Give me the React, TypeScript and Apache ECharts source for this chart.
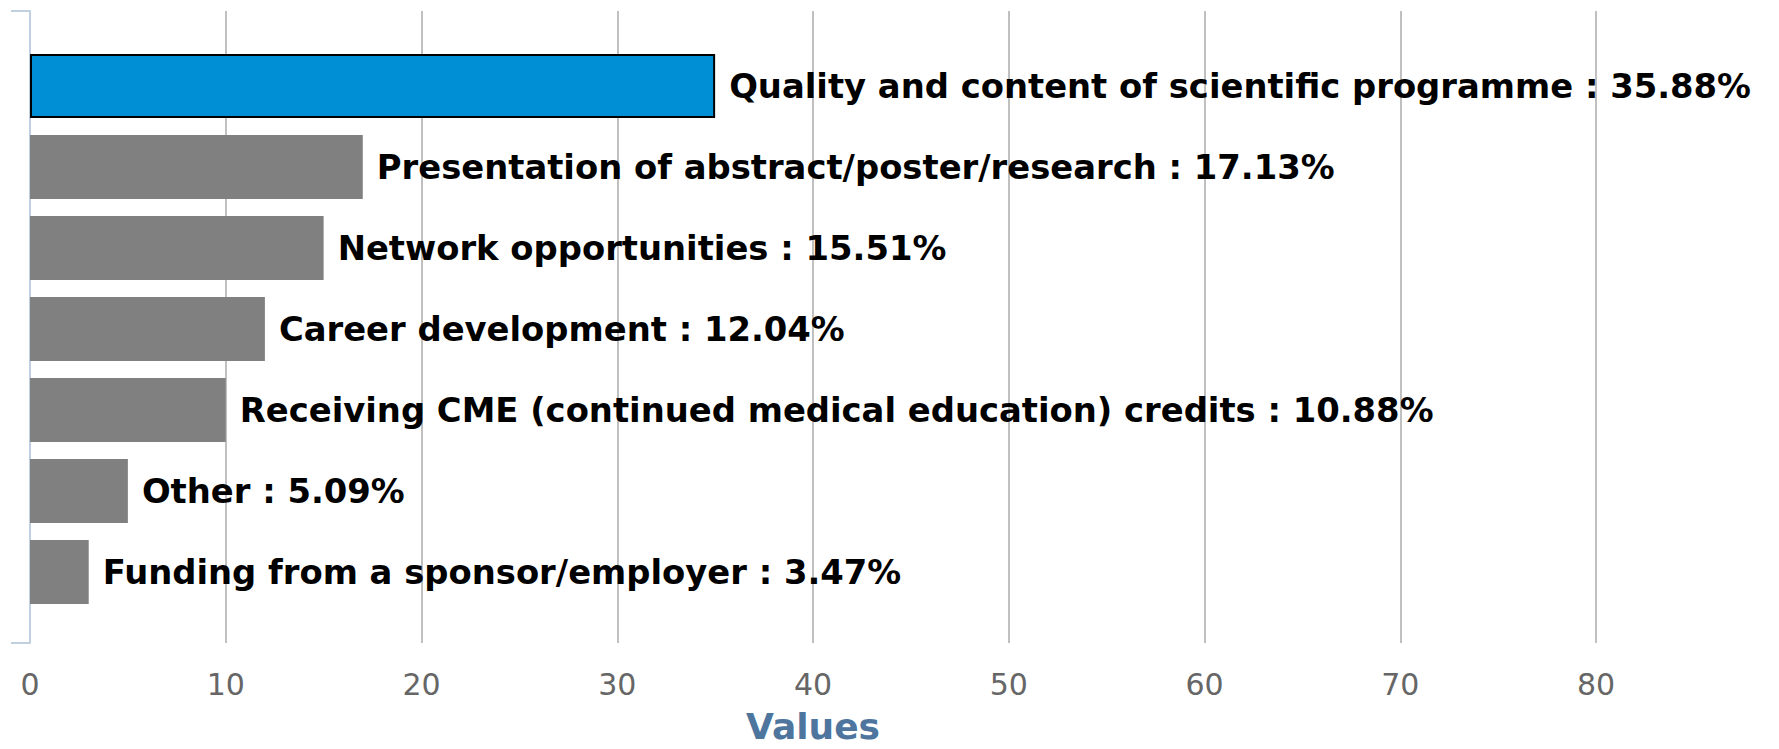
import React, { useEffect, useRef } from "react";
import * as echarts from "echarts";

const categories = [
  "Quality and content of scientific programme",
  "Presentation of abstract/poster/research",
  "Network opportunities",
  "Career development",
  "Receiving CME (continued medical education) credits",
  "Other",
  "Funding from a sponsor/employer",
];
const counts = [35, 17, 15, 12, 10, 5, 3];
const percentages = [35.88, 17.13, 15.51, 12.04, 10.88, 5.09, 3.47];
const axisMin = 0;
const axisMax = 80;
const axisStep = 10;
const axisTitle = "Values";
const highlightIndex = 0;

export default function App() {
  const ref = useRef<HTMLDivElement>(null);
  useEffect(() => {
    const chart = echarts.init(ref.current as HTMLDivElement, null, { renderer: "svg" });
    const left = 30;
    const right = 183;
    chart.setOption({
      animation: false,
      backgroundColor: "#ffffff",
      textStyle: { fontFamily: "DejaVu Sans" },
      grid: [
        { left, right, top: 11, bottom: 106 },
        { left, right, top: 45.5, bottom: 136.5 },
      ],
      xAxis: [
        {
          type: "value",
          gridIndex: 0,
          min: axisMin,
          max: axisMax,
          interval: axisStep,
          axisLine: { show: false },
          axisTick: { show: false },
          splitLine: { show: true, showMinLine: false, lineStyle: { color: "#c0c0c0", width: 2 } },
          axisLabel: { color: "#666666", fontSize: 30, margin: 26, fontFamily: "DejaVu Sans" },
          name: axisTitle,
          nameLocation: "middle",
          nameGap: 65,
          nameTextStyle: { color: "#4d759e", fontSize: 36, fontWeight: "bold", fontFamily: "DejaVu Sans" },
        },
        { type: "value", gridIndex: 1, min: axisMin, max: axisMax, interval: axisStep, show: false },
      ],
      yAxis: [
        {
          type: "value",
          gridIndex: 0,
          min: 0,
          max: 1,
          interval: 1,
          axisLine: { show: true, lineStyle: { color: "#c0d0e0", width: 2 } },
          axisTick: { show: true, length: 19, lineStyle: { color: "#c0d0e0", width: 2 } },
          axisLabel: { show: false },
          splitLine: { show: false },
        },
        { type: "category", gridIndex: 1, data: categories, inverse: true, show: false },
      ],
      series: [
        {
          type: "bar",
          xAxisIndex: 1,
          yAxisIndex: 1,
          barCategoryGap: "21%",
          data: counts.map((v, i) => ({
            value: v,
            itemStyle:
              i === highlightIndex
                ? { color: "#008fd4", borderColor: "#000000", borderWidth: 2 }
                : { color: "#808080" },
          })),
          label: {
            show: true,
            position: "right",
            distance: 14,
            color: "#000000",
            fontSize: 33.8,
            fontWeight: "bold",
            fontFamily: "DejaVu Sans",
            formatter: (p: any) =>
              `${categories[p.dataIndex]} : ${percentages[p.dataIndex].toFixed(2)}%`,
          },
        },
      ],
    });
    return () => chart.dispose();
  }, []);
  return (
    <div
      ref={ref}
      style={{ position: "fixed", left: 0, top: 0, width: 1779, height: 749, background: "#fff" }}
    />
  );
}
